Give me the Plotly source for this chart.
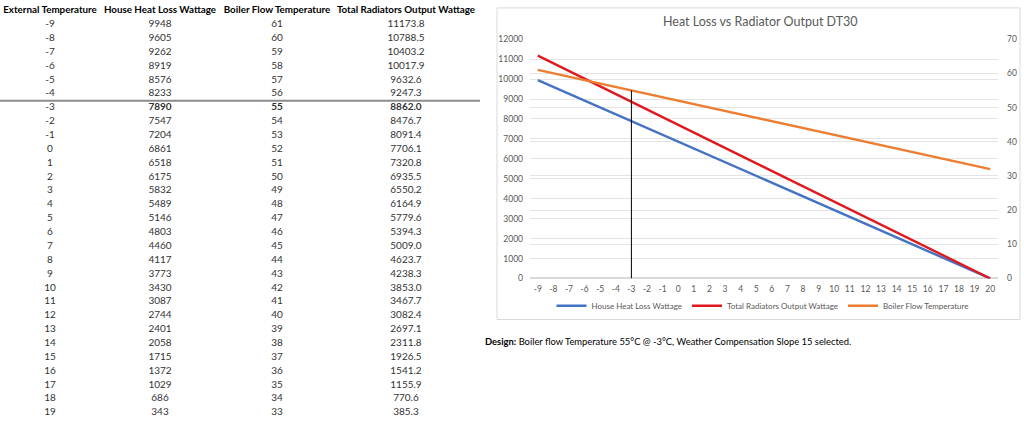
import plotly.graph_objects as go

ext_temp = list(range(-9, 21))
heat_loss = [9948, 9605, 9262, 8919, 8576, 8233, 7890, 7547, 7204, 6861,
             6518, 6175, 5832, 5489, 5146, 4803, 4460, 4117, 3773, 3430,
             3087, 2744, 2401, 2058, 1715, 1372, 1029, 686, 343, 0]
flow_temp = [61, 60, 59, 58, 57, 56, 55, 54, 53, 52,
             51, 50, 49, 48, 47, 46, 45, 44, 43, 42,
             41, 40, 39, 38, 37, 36, 35, 34, 33, 32]
rad_output = [11173.8, 10788.5, 10403.2, 10017.9, 9632.6, 9247.3, 8862.0, 8476.7, 8091.4, 7706.1,
              7320.8, 6935.5, 6550.2, 6164.9, 5779.6, 5394.3, 5009.0, 4623.7, 4238.3, 3853.0,
              3467.7, 3082.4, 2697.1, 2311.8, 1926.5, 1541.2, 1155.9, 770.6, 385.3, 0.0]

headers = ["External Temperature", "House Heat Loss Wattage",
           "Boiler Flow Temperature", "Total Radiators Output Wattage"]
table_rows = 29          # table shows -9 .. 19
design_temp = -3
design_flow = 55

FONT = "Lato"
W, H = 1024, 428

# ---------------- table (text drawn on a pixel-like axis) ----------------
col_x = [50, 160, 277, 406]
row_y0, row_step = 20, 14.2

fig = go.Figure()

fig.add_trace(go.Scatter(
    x=col_x, y=[6] * 4, mode="text",
    text=[f"<b>{h}</b>" for h in headers],
    textfont=dict(family=FONT, size=9.8, color="#000000"),
    xaxis="x3", yaxis="y3", showlegend=False, hoverinfo="skip"))

cols_txt = [
    [str(v) for v in ext_temp[:table_rows]],
    [str(v) for v in heat_loss[:table_rows]],
    [str(v) for v in flow_temp[:table_rows]],
    [f"{v:.1f}" for v in rad_output[:table_rows]],
]
ys = [row_y0 + i * row_step for i in range(table_rows)]
bold_i = ext_temp.index(design_temp)
for c, txt in enumerate(cols_txt):
    txt = [f"<b>{t}</b>" if (i == bold_i and c > 0) else t for i, t in enumerate(txt)]
    fig.add_trace(go.Scatter(
        x=[col_x[c]] * table_rows, y=ys, mode="text", text=txt,
        textfont=dict(family=FONT, size=10, color="#333333"),
        xaxis="x3", yaxis="y3", showlegend=False, hoverinfo="skip"))

# separator above the design row
sep_y = row_y0 + (bold_i - 0.5) * row_step
fig.add_shape(type="line", xref="x3", yref="y3", x0=0, x1=480, y0=sep_y, y1=sep_y,
              line=dict(color="#8C8C8C", width=2))

# ---------------- chart ----------------
fig.add_trace(go.Scatter(x=ext_temp, y=heat_loss, mode="lines", name="House Heat Loss Wattage",
                         line=dict(color="#4472C4", width=2.4), legendrank=1))
fig.add_trace(go.Scatter(x=ext_temp, y=rad_output, mode="lines", name="Total Radiators Output Wattage",
                         line=dict(color="#E0191F", width=2.4), legendrank=2))
fig.add_trace(go.Scatter(x=ext_temp, y=flow_temp, mode="lines", name="Boiler Flow Temperature",
                         line=dict(color="#ED7D31", width=2.4), yaxis="y2", legendrank=3))
fig.add_trace(go.Scatter(x=[design_temp, design_temp], y=[0, design_flow], mode="lines",
                         line=dict(color="#000000", width=1), yaxis="y2",
                         showlegend=False, hoverinfo="skip"))

# chart frame
fig.add_shape(type="rect", xref="paper", yref="paper",
              x0=497 / W, x1=1020 / W, y0=1 - 322 / H, y1=1 - 3 / H,
              line=dict(color="#D9D9D9", width=1), fillcolor="rgba(0,0,0,0)", layer="below")

fig.add_annotation(x=760 / W, y=1 - 17 / H, xref="paper", yref="paper", showarrow=False,
                   xanchor="center", yanchor="middle",
                   text="Heat Loss vs Radiator Output DT30",
                   font=dict(family=FONT, size=12.5, color="#595959"))

fig.add_annotation(x=483 / W, y=1 - 345 / H, xref="paper", yref="paper", showarrow=False,
                   xanchor="left", yanchor="middle",
                   text="<b>Design:</b> Boiler flow Temperature 55°C @ -3°C, Weather Compensation Slope 15 selected.",
                   font=dict(family=FONT, size=9.4, color="#000000"))

tick_font = dict(family=FONT, size=8.5, color="#595959")
x_dom = [530 / W, 998 / W]
y_dom = [1 - 280 / H, 1 - 35 / H]

fig.update_layout(
    width=W, height=H,
    margin=dict(l=0, r=0, t=0, b=0),
    paper_bgcolor="white", plot_bgcolor="white",
    font=dict(family=FONT),
    showlegend=True,
    legend=dict(orientation="h", x=763 / W, xanchor="center", y=1 - 308 / H, yanchor="middle",
                font=dict(family=FONT, size=8, color="#595959"), bgcolor="rgba(0,0,0,0)",
                itemwidth=30, tracegroupgap=0),
    xaxis=dict(domain=x_dom, range=[-9.5, 20.5], tickmode="array", tickvals=ext_temp,
               ticktext=[str(v) for v in ext_temp], showgrid=False, zeroline=False,
               showline=False, ticks="", tickfont=tick_font, anchor="y", ticklabelstandoff=4),
    yaxis=dict(domain=y_dom, range=[0, 12000], dtick=1000, tickformat="d", showgrid=True,
               gridcolor="#E4E4E4", gridwidth=1, zeroline=True, zerolinecolor="#D9D9D9",
               showline=False, ticks="", tickfont=tick_font, ticklabelstandoff=6),
    yaxis2=dict(domain=y_dom, range=[0, 70], dtick=10, overlaying="y", side="right",
                showgrid=True, gridcolor="#E4E4E4", gridwidth=1, zeroline=False, showline=False,
                ticks="", tickfont=tick_font, ticklabelstandoff=8, anchor="x"),
    xaxis3=dict(domain=[0, 480 / W], range=[0, 480], visible=False, fixedrange=True),
    yaxis3=dict(domain=[0, 1], range=[H, 0], visible=False, fixedrange=True, anchor="x3"),
)

# page body margin would shift the figure; drop it
fig.write_html("out.html", config={"displayModeBar": False},
               post_script="document.body.style.margin='0';")
